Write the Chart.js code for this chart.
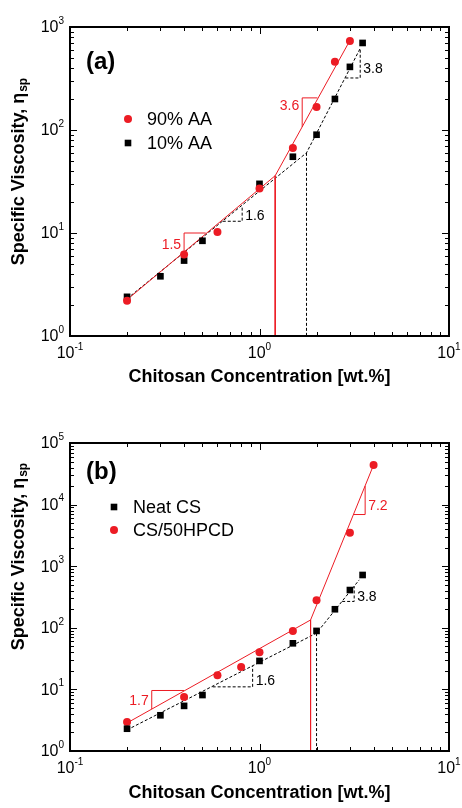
<!DOCTYPE html>
<html>
<head>
<meta charset="utf-8">
<script src="https://cdn.jsdelivr.net/npm/chart.js@4.4.0/dist/chart.umd.min.js"></script>
<style>
html,body{margin:0;padding:0;background:#fff;}
.panel{position:absolute;left:0;width:462px;height:404px;}
</style>
</head>
<body>
<div class="panel" style="top:0"><canvas id="chartA" width="462" height="404"></canvas></div>
<div class="panel" style="top:404px"><canvas id="chartB" width="462" height="404"></canvas></div>
<script>
// (a) 90% AA / 10% AA
var concA90=[0.2,0.4,0.6,1.0,1.5,2.0,2.5,3.0];
var viscA90=[2.2,6.2,10.2,27,67,167,460,730];
var concA10=[0.2,0.3,0.4,0.5,1.0,1.5,2.0,2.5,3.0,3.5];
var viscA10=[2.4,3.8,5.4,8.4,30,55,90,200,410,700];
// fits (a)
var fitA90X=[0.2,1.21,3.0],   fitA90Y=[2.25,36,740];
var critA90X=[1.21,1.21],     critA90Y=[36,1];
var fitA10X=[0.2,1.77,3.4],   fitA10Y=[2.3,60,620];
var critA10X=[1.77,1.77],     critA10Y=[60,1];
var triA15X=[0.4,0.4,0.52],   triA15Y=[6.6,10,10];
var triA16X=[0.64,0.81,0.81], triA16Y=[13,13,18];
var triA36X=[1.68,1.68,2.02], triA36Y=[107,205,205];
var triA38X=[2.84,3.4,3.4],   triA38Y=[320,320,620];

// (b) Neat CS / CS/50HPCD
var concBNeat=[0.2,0.3,0.4,0.5,1.0,1.5,2.0,2.5,3.0,3.5];
var viscBNeat=[2.3,3.8,5.4,8.1,29,56,89,200,410,720];
var concBHp=[0.2,0.4,0.6,0.8,1.0,1.5,2.0,3.0,4.0];
var viscBHp=[2.95,7.5,17,23,40,89,280,3500,44000];
// fits (b)
var fitBHpX=[0.2,1.86,4.0],   fitBHpY=[2.85,134,44000];
var critBHpX=[1.86,1.86],     critBHpY=[134,1];
var fitBNeatX=[0.2,2.0,3.36], fitBNeatY=[2.2,82,600];
var critBNeatX=[2.0,2.0],     critBNeatY=[82,1];
var triB17X=[0.27,0.27,0.40], triB17Y=[4.8,9.6,9.6];
var triB16X=[0.566,0.92,0.92],triB16Y=[11,11,24];
var triB38X=[2.73,3.16,3.16], triB38Y=[268,268,470];
var triB72X=[3.13,3.61,3.61], triB72Y=[6900,6900,20000];

var RED='rgb(236,28,36)';
var BLACK='#000';

function xy(xs,ys){
	var out=[];
	for(var i=0;i<xs.length;i++){ out.push({x:xs[i],y:ys[i]}); }
	return out;
}
function logTicks(e0,e1){
	var t=[];
	for(var e=e0;e<e1;e++){
		for(var m=1;m<10;m++){ t.push(m*Math.pow(10,e)); }
	}
	t.push(Math.pow(10,e1));
	return t;
}
function isMajor(v){
	var l=Math.log10(v);
	return Math.abs(l-Math.round(l))<1e-9;
}
function pts(xs,ys,color,style,r){
	return {data:xy(xs,ys),showLine:false,pointStyle:style,pointRadius:r,
		backgroundColor:color,borderColor:color,borderWidth:0,order:0};
}
function line(xs,ys,color,dashed){
	return {data:xy(xs,ys),showLine:true,pointRadius:0,borderColor:color,
		borderWidth:1,borderDash:dashed?[3,2]:[],fill:false,order:1};
}

// 10 with superscript exponent
function drawPow(ctx,x,y,exp,align){
	ctx.font='16px "Liberation Sans", Arial, sans-serif';
	var wb=ctx.measureText('10').width;
	ctx.font='10px "Liberation Sans", Arial, sans-serif';
	var we=ctx.measureText(exp).width;
	var left=align==='right'?x-wb-we:x-(wb+we)/2;
	ctx.textAlign='left';
	ctx.textBaseline='middle';
	ctx.font='16px "Liberation Sans", Arial, sans-serif';
	ctx.fillText('10',left,y);
	ctx.font='10px "Liberation Sans", Arial, sans-serif';
	ctx.fillText(exp,left+wb,y-7);
}

function makeDeco(info){
	return {
		id:'deco',
		afterDraw:function(chart){
			var ctx=chart.ctx, a=chart.chartArea;
			var xs=chart.scales.x, ys=chart.scales.y;
			ctx.save();
			ctx.strokeStyle=BLACK; ctx.fillStyle=BLACK;
			// ticks on all four sides, inward
			ctx.lineWidth=1;
			ctx.beginPath();
			xs.ticks.forEach(function(t){
				var px=Math.round(xs.getPixelForValue(t.value))+0.5;
				var len=isMajor(t.value)?7:4;
				ctx.moveTo(px,a.bottom); ctx.lineTo(px,a.bottom-len);
				ctx.moveTo(px,a.top); ctx.lineTo(px,a.top+len);
			});
			ys.ticks.forEach(function(t){
				var py=Math.round(ys.getPixelForValue(t.value))+0.5;
				var len=isMajor(t.value)?7:4;
				ctx.moveTo(a.left,py); ctx.lineTo(a.left+len,py);
				ctx.moveTo(a.right,py); ctx.lineTo(a.right-len,py);
			});
			ctx.stroke();
			// frame
			ctx.lineWidth=2;
			ctx.strokeRect(a.left,a.top,a.right-a.left,a.bottom-a.top);
			// tick labels
			xs.ticks.forEach(function(t){
				if(!isMajor(t.value)) return;
				drawPow(ctx,xs.getPixelForValue(t.value),a.bottom+18,String(Math.round(Math.log10(t.value))),'center');
			});
			ys.ticks.forEach(function(t){
				if(!isMajor(t.value)) return;
				drawPow(ctx,a.left-6,ys.getPixelForValue(t.value)+1,String(Math.round(Math.log10(t.value))),'right');
			});
			// x title
			ctx.font='bold 18px "Liberation Sans", Arial, sans-serif';
			ctx.textAlign='center'; ctx.textBaseline='middle';
			ctx.fillText('Chitosan Concentration [wt.%]',(a.left+a.right)/2,info.xTitleY);
			// y title with subscript
			var main='Specific Viscosity, \u03B7';
			ctx.font='bold 18px "Liberation Sans", Arial, sans-serif';
			var wm=ctx.measureText(main).width;
			ctx.font='bold 12px "Liberation Sans", Arial, sans-serif';
			var ws=ctx.measureText('sp').width;
			ctx.translate(19,info.yTitleY);
			ctx.rotate(-Math.PI/2);
			ctx.textAlign='left';
			ctx.font='bold 18px "Liberation Sans", Arial, sans-serif';
			ctx.fillText(main,-(wm+ws)/2,0);
			ctx.font='bold 12px "Liberation Sans", Arial, sans-serif';
			ctx.fillText('sp',-(wm+ws)/2+wm+1,5);
			ctx.setTransform(1,0,0,1,0,0);
			// panel label
			ctx.font='bold 24px "Liberation Sans", Arial, sans-serif';
			ctx.textAlign='left'; ctx.textBaseline='middle';
			ctx.fillText(info.panel,a.left+16,info.panelY);
			// legend
			ctx.font='18px "Liberation Sans", Arial, sans-serif';
			info.legend.forEach(function(l){
				ctx.fillStyle=l.color;
				if(l.style==='circle'){
					ctx.beginPath(); ctx.arc(l.x,l.y,4,0,Math.PI*2); ctx.fill();
				}else{
					ctx.fillRect(l.x-3.3,l.y-3.3,6.6,6.6);
				}
				ctx.fillStyle=BLACK;
				ctx.fillText(l.text,l.x+19,l.y+1);
			});
			// slope labels
			ctx.font='14px "Liberation Sans", Arial, sans-serif';
			info.slopes.forEach(function(s){
				ctx.fillStyle=s.color;
				ctx.textAlign=s.align;
				ctx.fillText(s.text,xs.getPixelForValue(s.x)+(s.align==='right'?-3:3),ys.getPixelForValue(s.y));
			});
			ctx.restore();
		}
	};
}

function makeChart(id,datasets,yMax,info){
	var yExp=Math.round(Math.log10(yMax));
	return new Chart(document.getElementById(id),{
		type:'scatter',
		data:{datasets:datasets},
		options:{
			responsive:false,
			animation:false,
			devicePixelRatio:1,
			layout:{padding:{top:info.top,right:13,left:0,bottom:0}},
			plugins:{legend:{display:false},tooltip:{enabled:false}},
			scales:{
				x:{type:'logarithmic',min:0.1,max:10,
					afterBuildTicks:function(s){ s.ticks=logTicks(-1,1).map(function(v){return {value:v};}); },
					afterFit:function(s){ s.height=404-info.bottom; },
					ticks:{display:false},grid:{display:false},border:{display:false}},
				y:{type:'logarithmic',min:1,max:yMax,
					afterBuildTicks:function(s){ s.ticks=logTicks(0,yExp).map(function(v){return {value:v};}); },
					afterFit:function(s){ s.width=70; },
					ticks:{display:false},grid:{display:false},border:{display:false}}
			}
		},
		plugins:[makeDeco(info)]
	});
}

makeChart('chartA',[
	pts(concA90,viscA90,RED,'circle',4),
	pts(concA10,viscA10,BLACK,'rect',4.7),
	line(fitA90X,fitA90Y,RED,false),
	line(critA90X,critA90Y,RED,false),
	line(triA15X,triA15Y,RED,false),
	line(triA36X,triA36Y,RED,false),
	line(fitA10X,fitA10Y,BLACK,true),
	line(critA10X,critA10Y,BLACK,true),
	line(triA16X,triA16Y,BLACK,true),
	line(triA38X,triA38Y,BLACK,true)
],1000,{
	top:27,bottom:336,xTitleY:377,yTitleY:172,panel:'(a)',panelY:62,
	legend:[
		{x:128,y:119,color:RED,style:'circle',text:'90% AA'},
		{x:128,y:143,color:BLACK,style:'rect',text:'10% AA'}
	],
	slopes:[
		{x:0.4,y:7.6,text:'1.5',color:RED,align:'right'},
		{x:0.81,y:14.6,text:'1.6',color:BLACK,align:'left'},
		{x:1.68,y:170,text:'3.6',color:RED,align:'right'},
		{x:3.4,y:390,text:'3.8',color:BLACK,align:'left'}
	]
});

makeChart('chartB',[
	pts(concBNeat,viscBNeat,BLACK,'rect',4.7),
	pts(concBHp,viscBHp,RED,'circle',4),
	line(fitBHpX,fitBHpY,RED,false),
	line(critBHpX,critBHpY,RED,false),
	line(triB17X,triB17Y,RED,false),
	line(triB72X,triB72Y,RED,false),
	line(fitBNeatX,fitBNeatY,BLACK,true),
	line(critBNeatX,critBNeatY,BLACK,true),
	line(triB16X,triB16Y,BLACK,true),
	line(triB38X,triB38Y,BLACK,true)
],100000,{
	top:39,bottom:347,xTitleY:389,yTitleY:153,panel:'(b)',panelY:68,
	legend:[
		{x:114,y:103,color:BLACK,style:'rect',text:'Neat CS'},
		{x:114,y:126,color:RED,style:'circle',text:'CS/50HPCD'}
	],
	slopes:[
		{x:0.27,y:6.5,text:'1.7',color:RED,align:'right'},
		{x:0.92,y:13.7,text:'1.6',color:BLACK,align:'left'},
		{x:3.16,y:320,text:'3.8',color:BLACK,align:'left'},
		{x:3.61,y:9500,text:'7.2',color:RED,align:'left'}
	]
});
</script>
</body>
</html>
